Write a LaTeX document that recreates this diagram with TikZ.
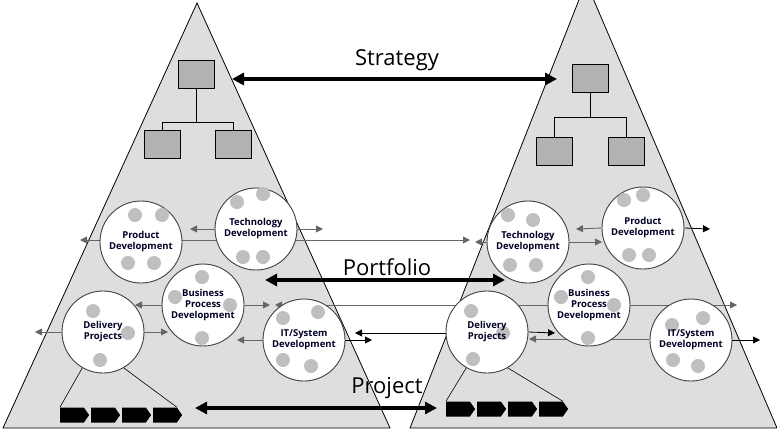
\documentclass[tikz,border=0pt]{standalone}
\usepackage{fontspec}
\setmainfont{Open Sans}
\usetikzlibrary{arrows.meta,shapes.arrows,shapes.geometric,shapes.symbols,calc}
\begin{document}
\begin{tikzpicture}[x=1pt,y=-1pt,
 tri/.style={fill=black!13,draw=black,line width=0.8pt},
 bx/.style={draw=black,fill=black!30,minimum width=36pt,minimum height=28pt,inner sep=0pt,line width=0.6pt},
 circ/.style={circle,draw=black!75,fill=white,line width=0.9pt,minimum size=82pt,inner sep=0pt,align=center,font=\fontsize{9.5}{11}\selectfont\bfseries,text=black!85!blue},
 dot/.style={circle,fill=black!25,minimum size=14pt,inner sep=0pt},
 big/.style={line width=4pt,{Triangle[length=12pt,width=12pt]}-{Triangle[length=12pt,width=12pt]}},
 lab/.style={font=\fontsize{22}{24}\selectfont},
 ga/.style={draw=black!60,line width=0.9pt,-{Triangle[length=7pt,width=7pt]}},
 ba/.style={draw=black,line width=0.8pt,-{Triangle[length=7pt,width=7pt]}},
 pstep/.style={signal,signal to=east,fill=black,minimum width=29pt,minimum height=15pt,inner sep=0pt,signal pointer angle=110}]
\useasboundingbox (0,0) rectangle (777,432);
\begin{scope}
\clip (0,0) rectangle (777,432);
\path[tri] (197,3) -- (390,428) -- (3,428) -- cycle;
\path[tri] (586,-18) -- (777,428) -- (410,428) -- cycle;
\end{scope}
% hierarchy boxes
\node[bx] (L0) at (196,74) {};
\node[bx] (L1) at (162,144) {};
\node[bx] (L2) at (233,144) {};
\draw[line width=0.6pt] (L0.south) -- ++(0,34) coordinate (Lm) -| (L1.north) (Lm) -| (L2.north);
\node[bx] (R0) at (590,78) {};
\node[bx] (R1) at (554,151) {};
\node[bx] (R2) at (626,151) {};
\draw[line width=0.6pt] (R0.south) -- ++(0,25) coordinate (Rm) -| (R1.north) (Rm) -| (R2.north);
% connectors behind circles
\coordinate (lp1) at (80,240); \coordinate (rp1) at (470,240);
\draw[ga] (182,240) -- (rp1);
\draw[ga] (100,240) -- (lp1);
\coordinate (bl) at (275,305); \coordinate (br) at (737,305);
\draw[draw=black!60,line width=0.9pt,{Triangle[length=7pt,width=7pt]}-{Triangle[length=7pt,width=7pt]}] (bl) -- (br);
\coordinate (il) at (529,339);
\draw[ga] (649,339) -- (il);
\coordinate (dl) at (355,333);
\draw[ba] (446,333) -- (dl);
% circles
\node[circ] (PD1) at (141,242) {};
\node[circ] (TD1) at (256,229) {};
\node[circ] (BP1) at (203,305) {};
\node[circ] (DP1) at (103,332) {};
\node[circ] (IT1) at (304,340) {};
\node[circ] (TD2) at (528,242) {};
\node[circ] (PD2) at (643,228) {};
\node[circ] (BP2) at (589,305) {};
\node[circ] (DP2) at (487,332) {};
\node[circ] (IT2) at (691,340) {};
% dots
\foreach \c/\a/\b in {PD1/-6/-27,PD1/21/-27,PD1/-13/21,PD1/13/21,
  TD1/-19/-27,TD1/7/-35,TD1/-13/28,TD1/7/28,
  BP1/-1/-28,BP1/-28/-8,BP1/27/0,BP1/-1/33,
  DP1/-10/-21,DP1/25/1,DP1/-3/28,
  IT1/-21/-22,IT1/14/-28,IT1/-21/20,IT1/7/26,
  TD2/-20/-27,TD2/5/-22,TD2/-18/23,TD2/8/23,
  PD2/-19/-28,PD2/0/-33,PD2/-14/27,PD2/6/27,
  BP2/-1/-28,BP2/-28/-8,BP2/25/0,BP2/-1/33,
  DP2/-16/-21,DP2/16/1,DP2/-14/27,
  IT2/-19/-15,IT2/12/-22,IT2/-18/20,IT2/7/26}
  \node[dot] at ($(\c)+(\a,\b)$) {};
% labels over dots
\node[circ,fill=none,draw=none] (tPD1) at (PD1) {Product\\Development};
\node[circ,fill=none,draw=none] (tTD1) at (TD1) {Technology\\Development};
\node[circ,fill=none,draw=none] (tBP1) at (BP1) {Business\\Process\\Development};
\node[circ,fill=none,draw=none] (tDP1) at (DP1) {Delivery\\Projects};
\node[circ,fill=none,draw=none] (tIT1) at (IT1) {IT/System\\Development};
\node[circ,fill=none,draw=none] (tTD2) at (TD2) {Technology\\Development};
\node[circ,fill=none,draw=none] (tPD2) at (PD2) {Product\\Development};
\node[circ,fill=none,draw=none] (tBP2) at (BP2) {Business\\Process\\Development};
\node[circ,fill=none,draw=none] (tDP2) at (DP2) {Delivery\\Projects};
\node[circ,fill=none,draw=none] (tIT2) at (IT2) {IT/System\\Development};
% short arrows
\coordinate (a1) at (190,229); \coordinate (a2) at (323,229);
\draw[ga] (TD1.west) -- (a1); \draw[ga] (TD1.east) -- (a2);
\coordinate (a3) at (135,305); \coordinate (a4) at (270,305);
\draw[ga] (BP1.west) -- (a3); \draw[ga] (BP1.east) -- (a4);
\coordinate (a5) at (35,332); \coordinate (a6) at (168,332);
\draw[ga] (DP1.west) -- (a5); \draw[ga] (DP1.east) -- (a6);
\coordinate (a7) at (237,340); \coordinate (a8) at (372,340);
\draw[ga] (IT1.west) -- (a7); \draw[ba] (IT1.east) -- (a8);
\coordinate (b1) at (475,242); \coordinate (b2) at (602,242);
\draw[ga] (TD2.west) -- (b1); \draw[ga] (TD2.east) -- (b2);
\coordinate (b3) at (576,229); \coordinate (b4) at (710,229);
\draw[ga] (PD2.west) -- (b3); \draw[ba] (PD2.east) -- (b4);
\coordinate (b5) at (555,333); \draw[ba] (DP2.east) -- (b5);
\coordinate (b6) at (760,340); \draw[ba] (IT2.east) -- (b6);
% project steps
\foreach \i in {0,1,2,3} {
  \node[pstep] (s\i) at (72+31*\i,415) {};
  \node[pstep] (t\i) at (458+31*\i,409) {};
}
\draw[line width=0.6pt] (DP1.240) -- (s0.north west);
\draw[line width=0.6pt] (DP1.300) -- (s3.north east);
\draw[line width=0.6pt] (DP2.240) -- (t0.north west);
\draw[line width=0.6pt] (DP2.300) -- (t3.north east);
% big arrows
\coordinate (sa) at (232,79); \coordinate (sb) at (557,79);
\draw[big] (sa) -- (sb);
\node[lab] (st) at (397,60) {Strategy};
\coordinate (pa) at (265,280); \coordinate (pb) at (505,280);
\draw[big] (pa) -- (pb);
\node[lab] (po) at (387,267) {Portfolio};
\coordinate (ja) at (195,408); \coordinate (jb) at (437,408);
\draw[big] (ja) -- (jb);
\node[lab] (pr) at (387,388) {Project};
\end{tikzpicture}
\end{document}
